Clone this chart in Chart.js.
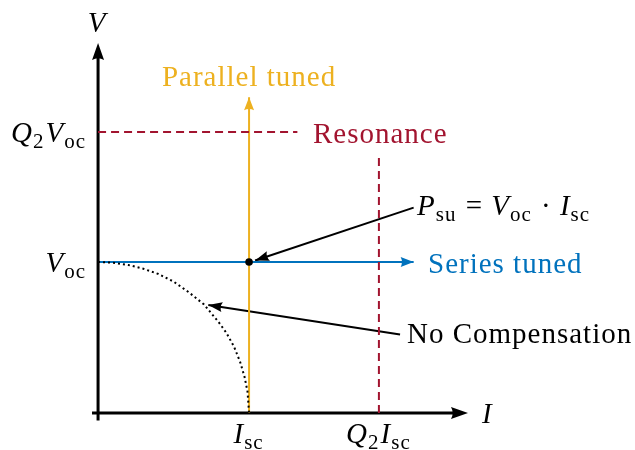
<!DOCTYPE html>
<html>
<head>
<meta charset="utf-8">
<script src="https://cdn.jsdelivr.net/npm/chart.js@4.4.0/dist/chart.umd.min.js"></script>
<style>
  html, body { margin: 0; padding: 0; background: #fff; }
</style>
</head>
<body>
<canvas id="myChart" width="635" height="450"></canvas>
<script>
// operating point, in units of I_sc and V_oc
const Isc = 1;
const Voc = 1;
const Q2 = 1.86;

// uncompensated I-V characteristic (dotted quarter curve)
const curveI = [0, 0.1, 0.2, 0.3, 0.4, 0.5, 0.6, 0.7, 0.8, 0.85, 0.9, 0.94, 0.97, 0.99, 1];
const curveV = [1, 0.995, 0.98, 0.955, 0.92, 0.87, 0.80, 0.72, 0.60, 0.53, 0.44, 0.34, 0.24, 0.14, 0];

// where the tuned lines and resonance limits stop
const parallelTop = 2.09;
const seriesEnd = 2.09;
const resonanceIEnd = 1.32;
const resonanceVTop = 1.71;

// annotation arrows, [from, to] as [I, V]
const psuArrow = [[2.09, 1.36], [1.04, 1.01]];
const noCompArrow = [[2.0, 0.52], [0.73, 0.715]];

// tick labels: [text, style] pieces, i = italic, r = roman, s = subscript
const yTickLabels = [
  { v: Q2 * Voc, parts: [['Q', 'i'], ['2', 's'], ['V', 'i'], ['oc', 's']] },
  { v: Voc, parts: [['V', 'i'], ['oc', 's']] }
];
const xTickLabels = [
  { v: Isc, parts: [['I', 'i'], ['sc', 's']] },
  { v: Q2 * Isc, parts: [['Q', 'i'], ['2', 's'], ['I', 'i'], ['sc', 's']] }
];

const orange = '#EDB120';
const blue = '#0072BD';
const red = '#A2142F';

const FONT = '"Liberation Serif", "DejaVu Serif", serif';
const MAIN = 29;
const SUB = 21;
const SPACING = '1px';

function fontFor(style) {
  if (style === 'i') return 'italic ' + MAIN + 'px ' + FONT;
  if (style === 's') return SUB + 'px ' + FONT;
  return MAIN + 'px ' + FONT;
}

function mathWidth(ctx, parts) {
  let w = 0;
  parts.forEach(p => { ctx.font = fontFor(p[1]); w += ctx.measureText(p[0]).width + (p[1] === 's' ? 1 : 0); });
  return w;
}

function drawMath(ctx, parts, x, y, align, color) {
  ctx.letterSpacing = SPACING;
  const w = mathWidth(ctx, parts);
  let cx = x;
  if (align === 'right') cx = x - w;
  if (align === 'center') cx = x - w / 2;
  ctx.fillStyle = color || '#000';
  ctx.textAlign = 'left';
  ctx.textBaseline = 'alphabetic';
  parts.forEach(p => {
    ctx.font = fontFor(p[1]);
    const dy = p[1] === 's' ? 6 : 0;
    ctx.fillText(p[0], cx, y + dy);
    cx += ctx.measureText(p[0]).width + (p[1] === 's' ? 1 : 0);
  });
}

function arrowHead(ctx, x0, y0, x1, y1, len, wid, color) {
  const a = Math.atan2(y1 - y0, x1 - x0);
  const bx = x1 - len * Math.cos(a), by = y1 - len * Math.sin(a);
  const nx = -Math.sin(a) * wid / 2, ny = Math.cos(a) * wid / 2;
  const mx = x1 - len * 0.8 * Math.cos(a), my = y1 - len * 0.8 * Math.sin(a);
  ctx.fillStyle = color;
  ctx.beginPath();
  ctx.moveTo(x1, y1);
  ctx.lineTo(bx + nx, by + ny);
  ctx.quadraticCurveTo(mx, my, bx - nx, by - ny);
  ctx.closePath();
  ctx.fill();
}

const pts = (xs, ys) => xs.map((x, i) => ({ x: x, y: ys[i] }));

const axesAndLabels = {
  id: 'axesAndLabels',
  beforeDatasetsDraw(chart) {
    const ctx = chart.ctx;
    const xs = chart.scales.x, ys = chart.scales.y;
    const x0 = xs.getPixelForValue(0), y0 = ys.getPixelForValue(0);
    const xTip = xs.getPixelForValue(2.45), yTip = ys.getPixelForValue(2.45);
    ctx.save();
    ctx.strokeStyle = '#000';
    ctx.lineWidth = 3;
    ctx.beginPath();
    ctx.moveTo(xs.getPixelForValue(-0.04), y0);
    ctx.lineTo(xTip - 10, y0);
    ctx.moveTo(x0, ys.getPixelForValue(-0.05));
    ctx.lineTo(x0, yTip + 10);
    ctx.stroke();
    arrowHead(ctx, x0, y0, xTip, y0, 17, 12, '#000');
    arrowHead(ctx, x0, y0, x0, yTip, 17, 12, '#000');
    ctx.restore();
  },
  afterDatasetsDraw(chart) {
    const ctx = chart.ctx;
    const xs = chart.scales.x, ys = chart.scales.y;
    ctx.save();
    // arrowheads on the datasets that end in one
    chart.data.datasets.forEach((ds, i) => {
      if (!ds.arrow) return;
      const d = chart.getDatasetMeta(i).data;
      const a = d[d.length - 2], b = d[d.length - 1];
      arrowHead(ctx, a.x, a.y, b.x, b.y, ds.arrow[0], ds.arrow[1], ds.borderColor);
    });

    // operating point dot
    ctx.fillStyle = '#000';
    ctx.beginPath();
    ctx.arc(xs.getPixelForValue(Isc), ys.getPixelForValue(Voc), 3.8, 0, Math.PI * 2);
    ctx.fill();

    const x0 = xs.getPixelForValue(0), y0 = ys.getPixelForValue(0);
    yTickLabels.forEach(t => drawMath(ctx, t.parts, x0 - 11, ys.getPixelForValue(t.v) + 10, 'right'));
    xTickLabels.forEach(t => drawMath(ctx, t.parts, xs.getPixelForValue(t.v), y0 + 30, 'center'));

    drawMath(ctx, [['V', 'i']], x0 - 1, 32, 'center');
    drawMath(ctx, [['I', 'i']], xs.getPixelForValue(2.45) + 14, y0 + 10, 'left');

    ctx.font = MAIN + 'px ' + FONT;
    ctx.letterSpacing = SPACING;
    ctx.textBaseline = 'alphabetic';
    ctx.textAlign = 'center';
    ctx.fillStyle = orange;
    ctx.fillText('Parallel tuned', xs.getPixelForValue(Isc), 86);
    ctx.textAlign = 'left';
    ctx.fillStyle = red;
    ctx.fillText('Resonance', 313, 143);
    ctx.fillStyle = blue;
    ctx.fillText('Series tuned', 428, 273);
    ctx.fillStyle = '#000';
    ctx.fillText('No Compensation', 407, 343);
    drawMath(ctx, [['P', 'i'], ['su', 's'], [' = ', 'r'], ['V', 'i'], ['oc', 's'], [' \u00b7 ', 'r'], ['I', 'i'], ['sc', 's']], 417, 215, 'left');
    ctx.restore();
  }
};

const ctx = document.getElementById('myChart').getContext('2d');
const myChart = new Chart(ctx, {
  type: 'scatter',
  data: {
    datasets: [
      {
        data: pts(curveI, curveV),
        borderColor: '#000',
        borderWidth: 2,
        borderDash: [2, 3],
        showLine: true,
        pointRadius: 0
      },
      {
        data: pts([0, resonanceIEnd], [Q2 * Voc, Q2 * Voc]),
        borderColor: red,
        borderWidth: 2,
        borderDash: [8, 5],
        showLine: true,
        pointRadius: 0
      },
      {
        data: pts([Q2 * Isc, Q2 * Isc], [0, resonanceVTop]),
        borderColor: red,
        borderWidth: 2,
        borderDash: [8, 5],
        showLine: true,
        pointRadius: 0
      },
      {
        data: pts([0, seriesEnd], [Voc, Voc]),
        borderColor: blue,
        borderWidth: 2,
        showLine: true,
        pointRadius: 0,
        arrow: [13, 10]
      },
      {
        data: pts([Isc, Isc], [0, parallelTop]),
        borderColor: orange,
        borderWidth: 2,
        showLine: true,
        pointRadius: 0,
        arrow: [13, 10]
      },
      {
        data: pts([psuArrow[0][0], psuArrow[1][0]], [psuArrow[0][1], psuArrow[1][1]]),
        borderColor: '#000',
        borderWidth: 2,
        showLine: true,
        pointRadius: 0,
        arrow: [14, 10]
      },
      {
        data: pts([noCompArrow[0][0], noCompArrow[1][0]], [noCompArrow[0][1], noCompArrow[1][1]]),
        borderColor: '#000',
        borderWidth: 2,
        showLine: true,
        pointRadius: 0,
        arrow: [14, 10]
      }
    ]
  },
  options: {
    responsive: false,
    animation: false,
    layout: { padding: { left: 89, right: 167, top: 43, bottom: 28 } },
    scales: {
      x: { type: 'linear', min: -0.06, max: 2.45, display: false },
      y: { type: 'linear', min: -0.06, max: 2.45, display: false }
    },
    plugins: {
      legend: { display: false },
      tooltip: { enabled: false }
    }
  },
  plugins: [axesAndLabels]
});
</script>
</body>
</html>
